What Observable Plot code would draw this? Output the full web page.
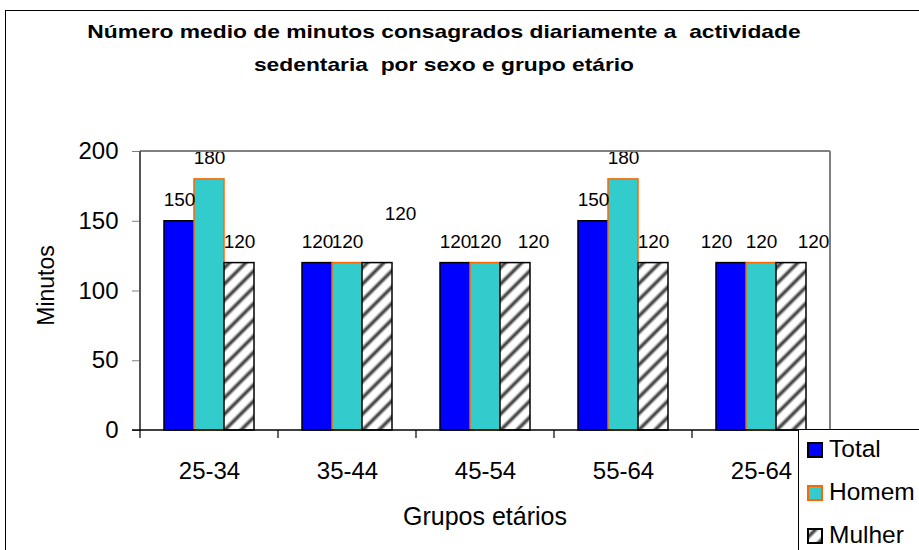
<!DOCTYPE html>
<html><head><meta charset="utf-8">
<script src="https://cdn.jsdelivr.net/npm/d3@7"></script>
<script src="https://cdn.jsdelivr.net/npm/@observablehq/plot@0.6"></script>
<style>
html,body{margin:0;padding:0;background:#fff;overflow:hidden;}
#wrap{position:relative;width:919px;height:550px;overflow:hidden;font-family:"Liberation Sans",Arial,sans-serif;}
#border{position:absolute;left:5px;top:10px;width:2000px;height:2000px;border-left:1px solid #000;border-top:1px solid #000;}
#title{position:absolute;left:0;top:15px;width:888px;text-align:center;font-weight:bold;font-size:19px;line-height:33px;white-space:pre;transform:scaleX(1.2);transform-origin:444px 0;color:#000;}
#chart{position:absolute;left:0;top:0;}
#legend{position:absolute;left:798px;top:429px;}
#chart g[aria-label="y-axis tick"] path{stroke:#808080;}
</style>
</head><body>
<svg width="0" height="0" style="position:absolute">
  <defs>
    <linearGradient id="stripe" x1="0" x2="1" y1="0" y2="0">
      <stop offset="0" stop-color="#fff"/>
      <stop offset="0.5" stop-color="#262626"/>
      <stop offset="1" stop-color="#fff"/>
    </linearGradient>
    <pattern id="hatch" patternUnits="userSpaceOnUse" width="11.5" height="11.5" patternTransform="rotate(45)">
      <rect width="11.5" height="11.5" fill="#fff"/>
      <rect x="0" y="0" width="6" height="11.5" fill="url(#stripe)"/>
    </pattern>
  </defs>
</svg>
<div id="wrap">
  <div id="border"></div>
  <div id="chart"></div>
  <div id="title"></div>
  <div id="legend"></div>
</div>
<script>
// ---- data ----
const groups = ["25-34", "35-44", "45-54", "55-64", "25-64"];
const series = ["Total", "Homem", "Mulher"];
const totalValues = [150, 120, 120, 150, 120];
const homemValues = [180, 120, 120, 180, 120];
const mulherValues = [120, 120, 120, 120, 120];
const yTicks = [0, 50, 100, 150, 200];
const titleLines = ["Número medio de minutos consagrados diariamente a  actividade", "sedentaria  por sexo e grupo etário"];
const xTitle = "Grupos etários";
const yTitle = "Minutos";

// ---- styles ----
const fills = {Total: "#0000ff", Homem: "#33cccc", Mulher: "url(#hatch)"};
const strokes = {Total: "#000000", Homem: "#ff6600", Mulher: "#000000"};
// data labels that were moved by hand in the original
const nudges = [
  {group: "35-44", series: "Mulher", dx: 23, dy: -28},
  {group: "45-54", series: "Mulher", dx: 18, dy: 0},
  {group: "25-64", series: "Total", dx: -15, dy: 0},
  {group: "25-64", series: "Mulher", dx: 22, dy: 0}
];

const valuesBySeries = {Total: totalValues, Homem: homemValues, Mulher: mulherValues};
const rows = series.flatMap(s => groups.map((g, i) => ({group: g, series: s, value: valuesBySeries[s][i]})));
const key = d => d.group + "|" + d.series;
const nudgeKeys = new Set(nudges.map(key));
const labelOpts = {fx: "group", x: "series", y: "value", text: d => String(d.value), fontSize: 19, lineAnchor: "middle"};

const marks = [
  ...series.map(s => Plot.barY(rows.filter(d => d.series === s), {
    fx: "group", x: "series", y: "value", fill: fills[s], stroke: strokes[s], strokeWidth: 1.5
  })),
  Plot.text(rows.filter(d => !nudgeKeys.has(key(d))), {...labelOpts, dy: -21}),
  ...nudges.map(n => Plot.text(rows.filter(d => key(d) === key(n)), {...labelOpts, dx: n.dx, dy: -21 + n.dy}))
];

const chart = Plot.plot({
  width: 919, height: 550,
  marginTop: 151, marginBottom: 120, marginLeft: 140, marginRight: 89,
  style: {fontFamily: '"Liberation Sans", Arial, sans-serif', fontSize: "24px", background: "transparent", color: "#000", overflow: "visible"},
  fx: {domain: groups, padding: 0, axis: "bottom", tickSize: 0, tickPadding: 31, label: null},
  x: {domain: series, paddingInner: 0, paddingOuter: 0.748, axis: null},
  y: {domain: [0, 200], ticks: yTicks, tickSize: 8, tickPadding: 14, label: null},
  marks
});
document.getElementById("chart").appendChild(chart);

// frame, axis lines and boundary ticks from the library's scales
const fxS = chart.scale("fx"), yS = chart.scale("y");
const xs = groups.map(g => fxS.apply(g));
const xEnd = xs[xs.length - 1] + fxS.bandwidth;
const x0 = xs[0];
const yTop = yS.apply(200), yBot = yS.apply(0);
const svg = d3.select(chart);
const g = svg.append("g");
g.append("line").attr("x1", x0).attr("x2", xEnd).attr("y1", yTop).attr("y2", yTop).attr("stroke", "#808080").attr("stroke-width", 2);
g.append("line").attr("x1", xEnd).attr("x2", xEnd).attr("y1", yTop).attr("y2", yBot).attr("stroke", "#808080").attr("stroke-width", 2);
g.append("line").attr("x1", x0).attr("x2", x0).attr("y1", yTop).attr("y2", yBot).attr("stroke", "#555").attr("stroke-width", 2);
g.append("line").attr("x1", x0 - 8).attr("x2", xEnd).attr("y1", yBot).attr("y2", yBot).attr("stroke", "#000").attr("stroke-width", 1.5);
[...xs, xEnd].forEach(x => g.append("line").attr("x1", x).attr("x2", x).attr("y1", yBot).attr("y2", yBot + 8).attr("stroke", "#000").attr("stroke-width", 1.2));
// axis titles
g.append("text").attr("x", (x0 + xEnd) / 2).attr("y", 525).attr("text-anchor", "middle").attr("font-size", 25).attr("fill", "#000").text(xTitle);
g.append("text").attr("transform", `translate(54,${(yTop + yBot) / 2 - 5}) rotate(-90)`).attr("text-anchor", "middle").attr("font-size", 23).attr("fill", "#000").text(yTitle);

// title
document.getElementById("title").textContent = titleLines.join("\n");

// legend
const legendColors = series.map(s => ({s, fill: fills[s], stroke: strokes[s]}));
const lg = d3.select("#legend").append("svg").attr("width", 121).attr("height", 121)
  .style("font-family", '"Liberation Sans", Arial, sans-serif');
lg.append("rect").attr("x", 0.5).attr("y", 0.5).attr("width", 300).attr("height", 300).attr("fill", "#fff").attr("stroke", "#000");
legendColors.forEach((d, i) => {
  const top = 13 + i * 43;
  lg.append("rect").attr("x", 10).attr("y", top + 1).attr("width", 14).attr("height", 14)
    .attr("fill", d.fill).attr("stroke", d.stroke).attr("stroke-width", 2);
  lg.append("text").attr("x", 31).attr("y", top + 15).attr("font-size", 24.5).attr("fill", "#000").text(d.s);
});
</script>
</body></html>
